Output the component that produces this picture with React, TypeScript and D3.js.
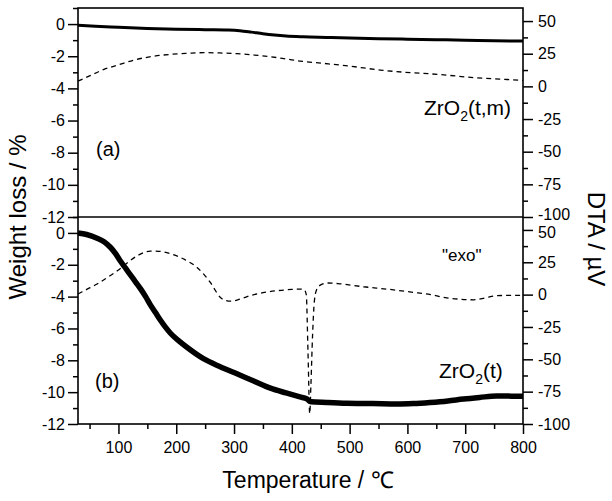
import React, { useEffect, useRef } from "react";
import * as d3 from "d3";

const W = 612;
const H = 501;
const FONT = "'Liberation Sans', Arial, Helvetica, sans-serif";

// Panel (a) ZrO2(t,m): weight loss (%)
const tempAW = [30, 60, 100, 150, 200, 250, 290, 310, 330, 350, 370, 390, 420, 460, 500, 550, 600, 650, 700, 750, 800];
const weightA = [-0.08, -0.14, -0.2, -0.27, -0.32, -0.35, -0.37, -0.41, -0.5, -0.6, -0.68, -0.74, -0.79, -0.83, -0.87, -0.91, -0.94, -0.97, -1.0, -1.04, -1.06];

// Panel (a) ZrO2(t,m): DTA (µV)
const tempAD = [30, 50, 75, 100, 132, 160, 190, 220, 247, 275, 305, 335, 363, 390, 414, 455, 500, 553, 590, 627, 670, 714, 760, 800];
const dtaA = [4, 8, 13, 16.5, 20.7, 23, 24.5, 25.3, 25.8, 25.6, 25, 24, 22.7, 21, 19.4, 17.6, 15.5, 12.5, 11, 10, 8.5, 6.7, 5.6, 4.6];

// Panel (b) ZrO2(t): weight loss (%)
const tempBW = [30, 45, 63, 75, 86, 95, 103, 112, 121, 130, 138, 147, 155, 164, 173, 182, 190, 205, 219, 247, 276, 305, 334, 363, 390, 414, 426, 430, 433, 460, 495, 540, 582, 610, 639, 670, 697, 725, 754, 780, 800];
const weightB = [0, -0.1, -0.33, -0.55, -0.9, -1.3, -1.75, -2.2, -2.65, -3.1, -3.5, -4.0, -4.5, -5.0, -5.5, -5.95, -6.3, -6.8, -7.2, -7.9, -8.4, -8.85, -9.3, -9.75, -10.05, -10.3, -10.42, -10.55, -10.6, -10.65, -10.7, -10.72, -10.75, -10.72, -10.65, -10.55, -10.43, -10.33, -10.24, -10.25, -10.26];

// Panel (b) ZrO2(t): DTA (µV)
const tempBD = [30, 45, 63, 80, 98, 115, 132, 145, 155, 170, 190, 215, 236, 250, 259, 268, 276, 285, 294, 310, 328, 350, 374, 400, 414, 421, 425, 428, 431, 433, 436, 439, 443, 450, 462, 480, 524, 570, 610, 640, 668, 690, 714, 735, 754, 800];
const dtaB = [0.5, 4, 8.2, 13, 18.4, 24.5, 29.9, 32.7, 33.7, 33.5, 31.6, 27, 21, 14.5, 9.4, 3, -2, -4.5, -5.1, -3.5, -0.8, 1.5, 3, 4, 4.3, 4, 0, -45, -92, -70, -30, -5, 4, 7.5, 9, 8.5, 6.1, 4, 1.8, 0, -2.5, -3.5, -4, -2.5, -0.8, -0.5];

// Tick values
const xMajor = [100, 200, 300, 400, 500, 600, 700, 800];
const xMinor = [50, 150, 250, 350, 450, 550, 650, 750];
const wMajor = [0, -2, -4, -6, -8, -10, -12];
const wMinor = [1, -1, -3, -5, -7, -9, -11];
const dMajor = [50, 25, 0, -25, -50, -75, -100];
const dMinor = [37.5, 12.5, -12.5, -37.5, -62.5, -87.5];

export default function App() {
  const ref = useRef<SVGSVGElement>(null);

  useEffect(() => {
    const svg = d3.select(ref.current);
    svg.selectAll("*").remove();

    const left = 78, right = 523, top = 8, mid = 217, bottom = 424;

    const x = d3.scaleLinear().domain([30, 800]).range([left, right]);
    const panels = [
      { y0: top, y1: mid, tw: tempAW, w: weightA, td: tempAD, d: dtaA, wWidth: 3, idx: 0 },
      { y0: mid, y1: bottom, tw: tempBW, w: weightB, td: tempBD, d: dtaB, wWidth: 5.5, idx: 1 },
    ];

    const g = svg.append("g");

    panels.forEach((p) => {
      const yW = d3.scaleLinear().domain([-12, 1]).range([p.y1, p.y0]);
      const yD = d3.scaleLinear().domain([-100, 60]).range([p.y1, p.y0]);

      const wLine = d3.line<number>().x((_, i) => x(p.tw[i])).y((v) => yW(v)).curve(d3.curveMonotoneX);
      const dLine = d3.line<number>().x((_, i) => x(p.td[i])).y((v) => yD(v)).curve(d3.curveMonotoneX);

      g.append("path").attr("d", dLine(p.d) as string).attr("fill", "none")
        .attr("stroke", "#000").attr("stroke-width", 1.3).attr("stroke-dasharray", "5,4");
      g.append("path").attr("d", wLine(p.w) as string).attr("fill", "none")
        .attr("stroke", "#000").attr("stroke-width", p.wWidth).attr("stroke-linejoin", "round");

      g.append("g").attr("transform", `translate(${left},0)`)
        .call(d3.axisLeft(yW).tickValues(wMajor).tickSize(10).tickPadding(3).tickFormat((v) => String(v)));
      g.append("g").attr("transform", `translate(${left},0)`)
        .call(d3.axisLeft(yW).tickValues(wMinor).tickSize(5).tickFormat(() => ""));
      const ra = g.append("g").attr("transform", `translate(${right},0)`)
        .call(d3.axisRight(yD).tickValues(dMajor).tickSize(10).tickPadding(5).tickFormat((v) => String(v)));
      g.append("g").attr("transform", `translate(${right},0)`)
        .call(d3.axisRight(yD).tickValues(dMinor).tickSize(5).tickFormat(() => ""));
      // nudge the two touching labels at the panel junction
      ra.selectAll<SVGTextElement, number>(".tick text").attr("transform", (v) => {
        if (p.idx === 0 && v === -100) return "translate(0,-3)";
        if (p.idx === 1 && v === 50) return "translate(0,2)";
        return null as unknown as string;
      });
    });

    g.append("g").attr("transform", `translate(0,${bottom})`)
      .call(d3.axisBottom(x).tickValues(xMajor).tickSize(10).tickPadding(8).tickFormat((v) => String(v)));
    g.append("g").attr("transform", `translate(0,${bottom})`)
      .call(d3.axisBottom(x).tickValues(xMinor).tickSize(5).tickFormat(() => ""));

    g.selectAll(".domain").remove();
    g.selectAll(".tick line").attr("stroke", "#000").attr("stroke-width", 1.5);
    g.selectAll(".tick text").attr("font-family", FONT).attr("font-size", 16).attr("fill", "#000");

    g.append("rect").attr("x", left).attr("y", top).attr("width", right - left).attr("height", bottom - top)
      .attr("fill", "none").attr("stroke", "#000").attr("stroke-width", 1.6);
    g.append("line").attr("x1", left).attr("x2", right).attr("y1", mid).attr("y2", mid)
      .attr("stroke", "#000").attr("stroke-width", 1.6);

    g.append("text").attr("transform", `translate(26,217) rotate(-90)`).attr("text-anchor", "middle")
      .attr("font-family", FONT).attr("font-size", 24).text("Weight loss / %");
    g.append("text").attr("transform", `translate(588,239) rotate(90)`).attr("text-anchor", "middle")
      .attr("font-family", FONT).attr("font-size", 24).text("DTA / µV");
    g.append("text").attr("x", 308).attr("y", 488).attr("text-anchor", "middle")
      .attr("font-family", FONT).attr("font-size", 23).text("Temperature / ℃");

    const ann = (xx: number, yy: number, size: number, s: string) =>
      g.append("text").attr("x", xx).attr("y", yy).attr("font-family", FONT).attr("font-size", size).text(s);
    ann(96, 156, 20, "(a)");
    ann(95, 388, 20, "(b)");
    ann(442, 261, 17, "\"exo\"");

    const sub = (xx: number, yy: number, rest: string) => {
      const t = g.append("text").attr("x", xx).attr("y", yy).attr("font-family", FONT).attr("font-size", 21);
      t.append("tspan").text("ZrO");
      t.append("tspan").attr("dy", 6).attr("font-size", 14).text("2");
      t.append("tspan").attr("dy", -6).text(rest);
    };
    sub(424, 115, "(t,m)");
    sub(439, 378, "(t)");
  }, []);

  return (
    <svg
      ref={ref}
      width={W}
      height={H}
      style={{ position: "absolute", left: 0, top: 0, background: "#fff" }}
    />
  );
}
